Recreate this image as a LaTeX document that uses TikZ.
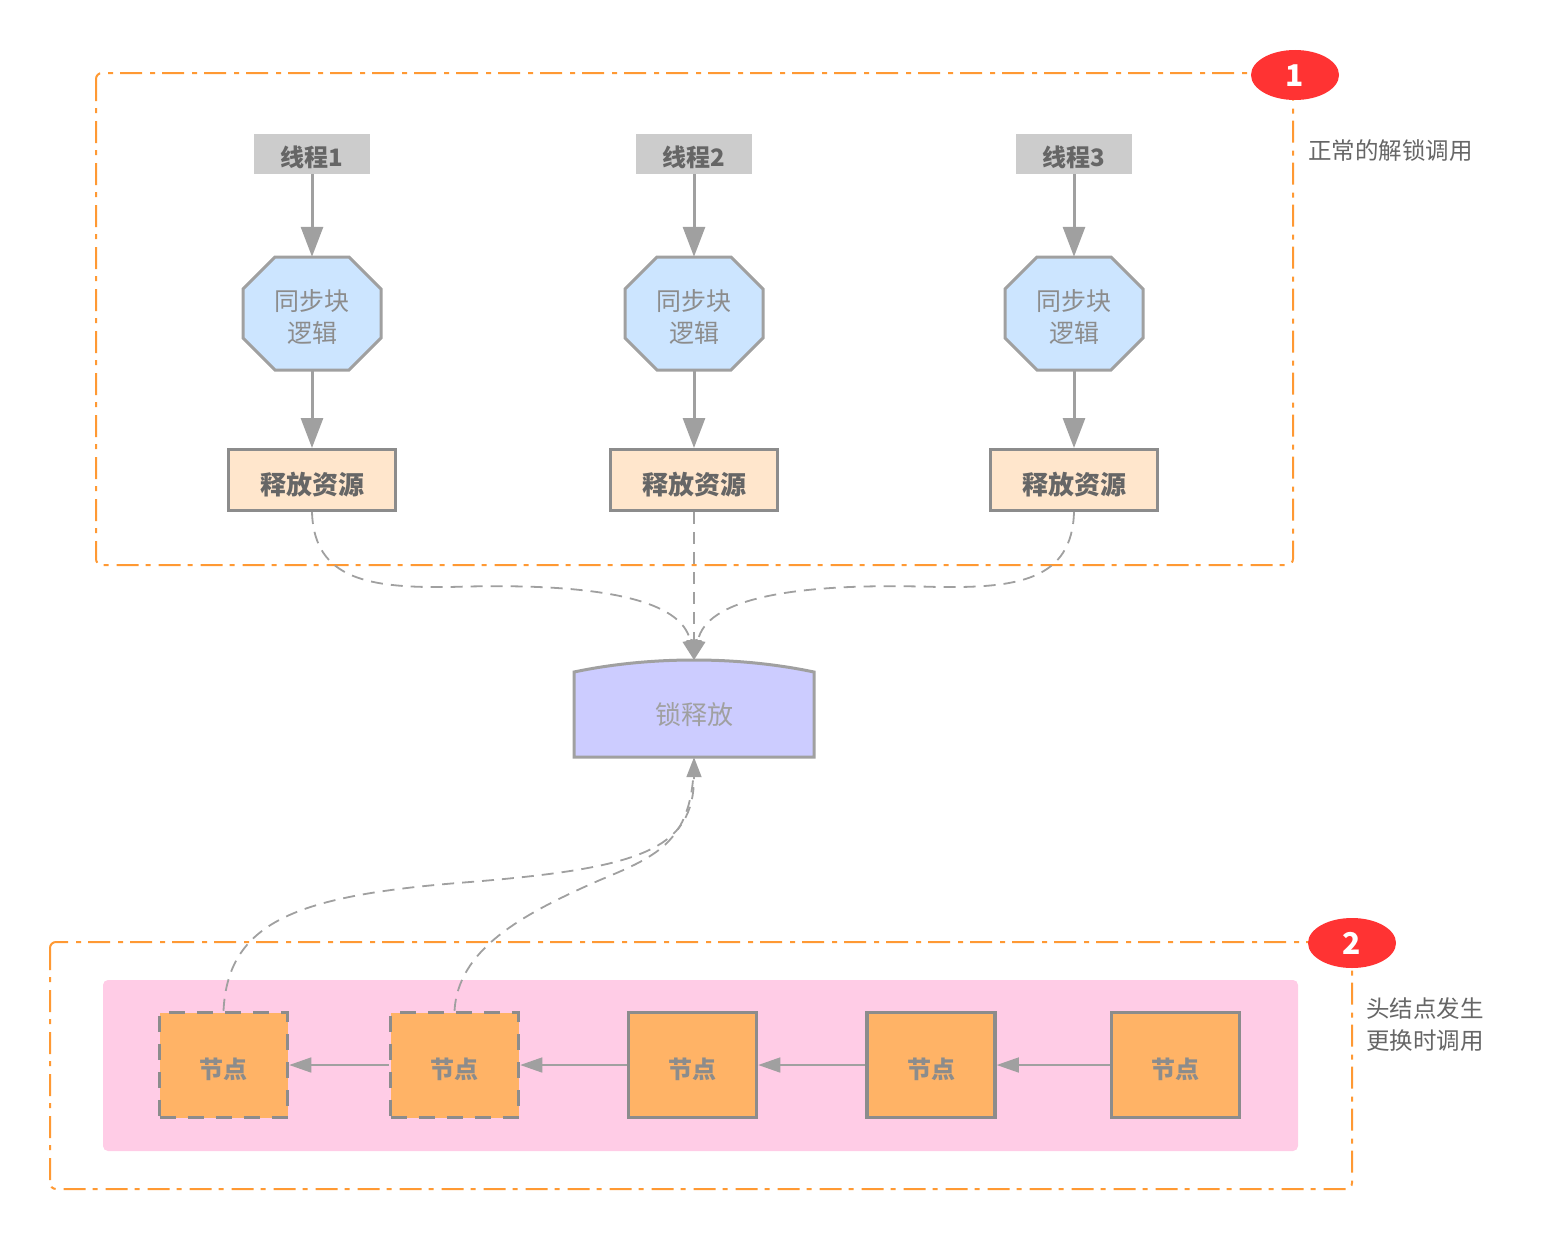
\documentclass[tikz,border=0pt]{standalone}
\usepackage{fontspec}
\setmainfont{Noto Sans CJK SC}
\usetikzlibrary{arrows.meta,shapes.geometric}
\definecolor{frameor}{HTML}{FF9933}
\definecolor{badgered}{HTML}{FF3333}
\definecolor{linegray}{HTML}{A0A0A0}
\definecolor{boxgray}{HTML}{8C8C8C}
\definecolor{threadfill}{HTML}{CCCCCC}
\definecolor{octfill}{HTML}{CCE5FF}
\definecolor{relfill}{HTML}{FFE6CC}
\definecolor{lockfill}{HTML}{CCCCFF}
\definecolor{pinkfill}{HTML}{FFCCE6}
\definecolor{nodefill}{HTML}{FFB366}
\definecolor{txtdark}{HTML}{666666}
\tikzset{
  frame/.style={draw=frameor, line width=2pt, rounded corners=6pt, dash pattern=on 22pt off 7pt on 5pt off 8pt},
  badge/.style={ellipse, fill=badgered, minimum width=88pt, minimum height=50pt, inner sep=0pt, text=white, text height=23pt, text depth=1pt, font=\fontsize{30}{30}\selectfont\bfseries},
  sidelabel/.style={anchor=north west, align=left, text=txtdark, inner sep=0pt, font=\fontsize{23.5}{32}\selectfont},
  threadbox/.style={fill=threadfill, minimum width=116pt, minimum height=40pt, inner sep=0pt, text=txtdark, text height=26pt, text depth=2pt, font=\fontsize{24}{24}\selectfont\bfseries},
  octshape/.style={fill=octfill, draw=linegray, line width=3pt, line join=miter},
  octanchor/.style={minimum width=138pt, minimum height=113pt, inner sep=0pt},
  octtext/.style={align=center, inner sep=0pt, text=boxgray, font=\fontsize{25}{32}\selectfont},
  relbox/.style={fill=relfill, draw=boxgray, line width=3pt, minimum width=167pt, minimum height=61pt, inner sep=0pt, text=txtdark, text height=29pt, text depth=1pt, font=\fontsize{26}{26}\selectfont\bfseries},
  bigarrow/.style={draw=linegray, line width=3pt, -{Triangle[length=30pt,width=22pt]}},
  dashconn/.style={draw=linegray, line width=1.8pt, dash pattern=on 12pt off 8pt, -{Triangle[length=20pt,width=15pt,fill=linegray]}},
  dashplain/.style={draw=linegray, line width=1.8pt, dash pattern=on 12pt off 8pt},
  lockshape/.style={fill=lockfill, draw=linegray, line width=3pt},
  locktext/.style={minimum width=240pt, minimum height=85pt, inner sep=0pt, text=linegray, font=\fontsize{26}{26}\selectfont},
  listnode/.style={fill=nodefill, draw=boxgray, line width=3.5pt, minimum width=128pt, minimum height=105pt, inner sep=0pt, text=boxgray, text height=27pt, text depth=1pt, font=\fontsize{24}{24}\selectfont\bfseries},
  dashednode/.style={listnode, dash pattern=on 16pt off 12pt},
  smallarrow/.style={draw=linegray, line width=1.5pt, -{Triangle[length=22pt,width=15pt]}},
}
\begin{document}
\begin{tikzpicture}[x=1pt,y=-1pt]
\useasboundingbox (0,0) rectangle (1565,1239);
% frames
\draw[frame] (96,73) rectangle (1293,565);
\draw[frame] (50,942) rectangle (1352,1189);
\node[badge] (b1) at (1295,75) {1};
\node[badge] (b2) at (1352,943) {2};
\node[sidelabel] (lab1) at (1308,139) {正常的解锁调用};
\node[sidelabel] (lab2) at (1366,997) {头结点发生\\更换时调用};
% top threads
\foreach \i/\x in {1/312,2/694,3/1074}{
  \node[threadbox] (t\i) at (\x,154) {线程\i};
  \path[octshape] (\x-37,257) -- (\x+37,257) -- (\x+69,289) -- (\x+69,338) -- (\x+37,370) -- (\x-37,370) -- (\x-69,338) -- (\x-69,289) -- cycle;
  \node[octanchor, label={[octtext, yshift=-3pt]center:同步块\\逻辑}] (s\i) at (\x,313.5) {};
  \node[relbox] (r\i) at (\x,480) {释放资源};
  \draw[bigarrow] (t\i) -- (s\i);
  \draw[bigarrow] (s\i) -- (r\i);
}
% lock
\path[lockshape] (574,757) -- (574,672) .. controls (650,656) and (738,656) .. (814,672) -- (814,757) -- cycle;
\node[locktext] (lock) at (694,714.5) {锁释放};
\coordinate (locktop) at (694,660);
\draw[dashconn] (r1.south) .. controls (314,580) and (370,588) .. (450,587) .. controls (600,582) and (682,600) .. (locktop);
\draw[dashconn] (r3.south) .. controls (1072,580) and (1018,588) .. (938,587) .. controls (788,582) and (706,600) .. (locktop);
\draw[dashconn] (r2.south) -- (locktop);
% bottom list
\fill[pinkfill, rounded corners=5pt] (103,980) rectangle (1298,1151);
\node[dashednode] (n1) at (223.5,1065) {节点};
\node[dashednode] (n2) at (454.5,1065) {节点};
\node[listnode] (n3) at (692.5,1065) {节点};
\node[listnode] (n4) at (931,1065) {节点};
\node[listnode] (n5) at (1175.5,1065) {节点};
\draw[smallarrow] (n2.west) -- (n1.east);
\draw[smallarrow] (n3.west) -- (n2.east);
\draw[smallarrow] (n4.west) -- (n3.east);
\draw[smallarrow] (n5.west) -- (n4.east);
\draw[dashconn] (n1.north) .. controls (228,920) and (300,895) .. (470,882) .. controls (640,868) and (694,850) .. (lock.south);
\draw[dashplain] (n2.north) .. controls (458,950) and (520,915) .. (600,880) .. controls (660,855) and (694,840) .. (lock.south);
\end{tikzpicture}
\end{document}
